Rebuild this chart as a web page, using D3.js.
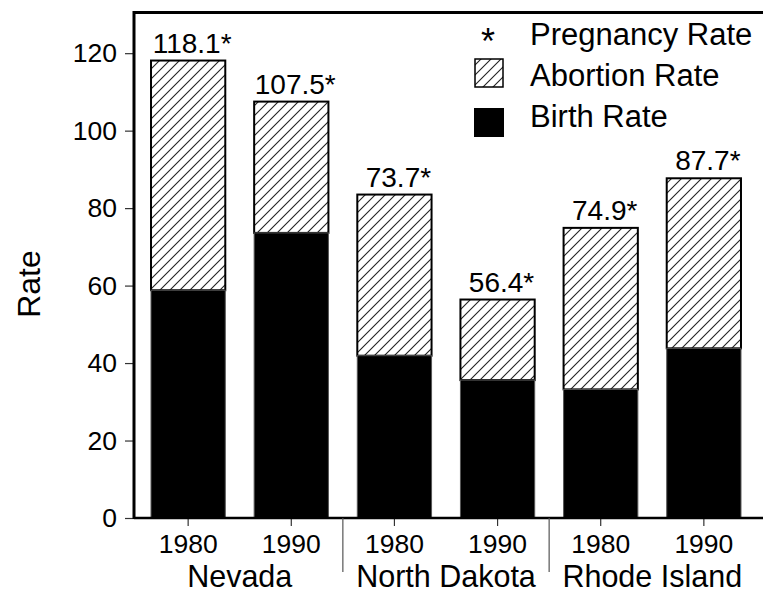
<!DOCTYPE html>
<html>
<head>
<meta charset="utf-8">
<script src="https://cdn.jsdelivr.net/npm/d3@7"></script>
<style>
  html, body { margin: 0; padding: 0; background: #fff; }
  svg { display: block; font-family: "Liberation Sans", Arial, Helvetica, sans-serif; }
</style>
</head>
<body>
<svg id="chart" width="763" height="595"></svg>
<script>
const states = ["Nevada", "North Dakota", "Rhode Island"];
const years = ["1980", "1990"];
const birthRate = [58.8, 73.6, 41.9, 35.6, 33.2, 43.8];
const abortionRate = [59.3, 33.9, 41.6, 20.8, 41.7, 43.9];
const pregnancyLabels = ["118.1*", "107.5*", "73.7*", "56.4*", "74.9*", "87.7*"];
const yTicks = [0, 20, 40, 60, 80, 100, 120];
const legendLabels = ["Pregnancy Rate", "Abortion Rate", "Birth Rate"];

const bars = [];
states.forEach((s, si) => years.forEach((yr, yi) => {
  const i = si * 2 + yi;
  bars.push({ key: s + "-" + yr, state: s, year: yr, birth: birthRate[i], abortion: abortionRate[i], label: pregnancyLabels[i] });
}));

const svg = d3.select("#chart");
const mLeft = 134, mRight = 763, mTop = 12.5, mBottom = 518;

const x = d3.scaleBand().domain(bars.map(d => d.key)).range([mLeft, 758])
  .paddingInner(0.28).paddingOuter(0.165);
const y = d3.scaleLinear().domain([0, 130.5]).range([mBottom, mTop]);

// hatch pattern
const defs = svg.append("defs");
const pat = defs.append("pattern").attr("id", "hatch").attr("patternUnits", "userSpaceOnUse")
  .attr("width", 10).attr("height", 10);
pat.append("rect").attr("width", 10).attr("height", 10).attr("fill", "#fff");
pat.append("path").attr("d", "M-1,1 l2,-2 M0,10 l10,-10 M9,11 l2,-2")
  .attr("stroke", "#222").attr("stroke-width", 1.1);

// bars
const g = svg.append("g");
g.selectAll("rect.abort").data(bars).join("rect").attr("class", "abort")
  .attr("x", d => x(d.key)).attr("width", x.bandwidth())
  .attr("y", d => y(d.birth + d.abortion)).attr("height", d => y(d.birth) - y(d.birth + d.abortion))
  .attr("fill", "url(#hatch)").attr("stroke", "#000").attr("stroke-width", 2);
g.selectAll("rect.birth").data(bars).join("rect").attr("class", "birth")
  .attr("x", d => x(d.key)).attr("width", x.bandwidth())
  .attr("y", d => y(d.birth)).attr("height", d => y(0) - y(d.birth))
  .attr("fill", "#000").attr("stroke", "#555").attr("stroke-width", 1);

// labels above bars
g.selectAll("text.lab").data(bars).join("text").attr("class", "lab")
  .attr("x", d => x(d.key) + x.bandwidth() / 2 + 4)
  .attr("y", d => y(d.birth + d.abortion) - 8)
  .attr("text-anchor", "middle").attr("font-size", 28).attr("fill", "#000")
  .text(d => d.label);

// y axis
const yAxis = d3.axisLeft(y).tickValues(yTicks).tickSize(9).tickPadding(8);
const ya = svg.append("g").attr("transform", `translate(${mLeft},0)`).call(yAxis);
ya.select(".domain").remove();
ya.selectAll(".tick line").attr("stroke", "#333").attr("stroke-width", 1.2);
ya.selectAll(".tick text").attr("font-size", 26.5).attr("fill", "#000")
  .attr("font-family", "Liberation Sans, Arial, sans-serif");

// x axis (years)
const xAxis = d3.axisBottom(x).tickFormat(k => k.split("-")[1]).tickSize(8).tickPadding(8);
const xa = svg.append("g").attr("transform", `translate(0,${mBottom})`).call(xAxis);
xa.select(".domain").remove();
xa.selectAll(".tick line").attr("stroke", "#333").attr("stroke-width", 1.2);
xa.selectAll(".tick text").attr("font-size", 26.5).attr("fill", "#000")
  .attr("font-family", "Liberation Sans, Arial, sans-serif");

// frame lines
svg.append("line").attr("x1", mLeft).attr("x2", mRight).attr("y1", mTop).attr("y2", mTop)
  .attr("stroke", "#000").attr("stroke-width", 3);
svg.append("line").attr("x1", mLeft).attr("x2", mLeft).attr("y1", mTop - 1.5).attr("y2", mBottom + 1)
  .attr("stroke", "#000").attr("stroke-width", 3);
svg.append("line").attr("x1", mLeft).attr("x2", mRight).attr("y1", mBottom).attr("y2", mBottom)
  .attr("stroke", "#000").attr("stroke-width", 2.5);

// group separators and labels
const sepX = [1, 2].map(i => (x(bars[i * 2 - 1].key) + x.bandwidth() + x(bars[i * 2].key)) / 2);
svg.selectAll("line.sep").data(sepX).join("line").attr("class", "sep")
  .attr("x1", d => d).attr("x2", d => d).attr("y1", mBottom).attr("y2", 572)
  .attr("stroke", "#555").attr("stroke-width", 1.2);
svg.selectAll("text.grp").data(states).join("text").attr("class", "grp")
  .attr("x", (s, i) => (x(bars[i * 2].key) + x(bars[i * 2 + 1].key) + x.bandwidth()) / 2)
  .attr("y", 587).attr("text-anchor", "middle").attr("font-size", 30.5).attr("fill", "#000")
  .text(s => s);

// y label
svg.append("text").attr("transform", "translate(40,284) rotate(-90)")
  .attr("text-anchor", "middle").attr("font-size", 32).text("Rate");

// legend
const lg = svg.append("g");
const lx = 474, ltx = 530, lys = [45, 86, 127];
lg.append("text").attr("x", lx + 14).attr("y", lys[0] + 9).attr("text-anchor", "middle")
  .attr("font-size", 36).text("*");
lg.append("rect").attr("x", lx + 1).attr("y", 59).attr("width", 28).attr("height", 28)
  .attr("fill", "url(#hatch)").attr("stroke", "#000").attr("stroke-width", 1.5);
lg.append("rect").attr("x", lx).attr("y", 108).attr("width", 30).attr("height", 29)
  .attr("fill", "#000");
lg.selectAll("text.lt").data(legendLabels).join("text").attr("class", "lt")
  .attr("x", ltx).attr("y", (d, i) => lys[i]).attr("font-size", 31).text(d => d);
</script>
</body>
</html>
